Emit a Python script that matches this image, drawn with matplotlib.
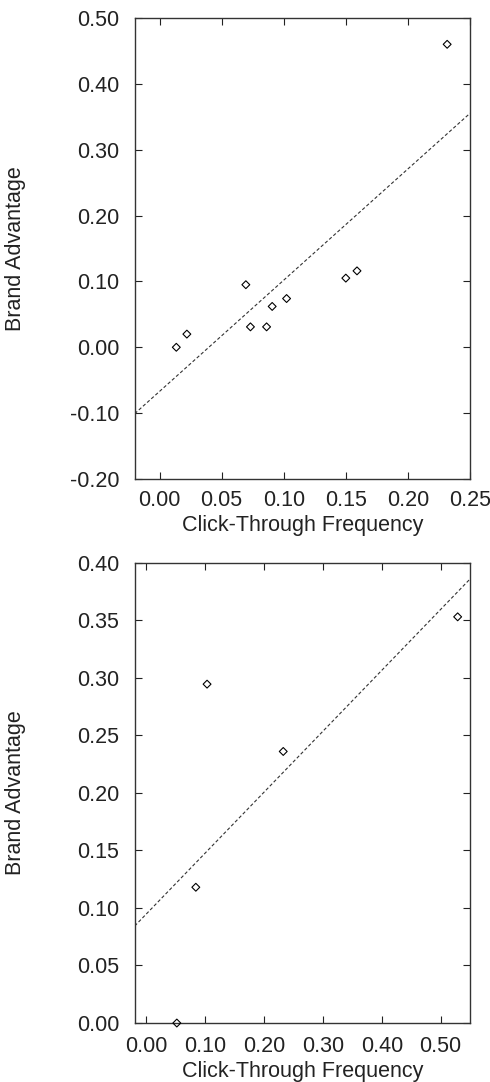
# two stacked scatter plots with fitted dashed lines
import numpy as np
import matplotlib
matplotlib.use('Agg')
import matplotlib.pyplot as plt

plt.rcParams['font.family'] = ['Liberation Sans', 'DejaVu Sans']

# top panel data
x_top = [0.0135, 0.022, 0.0695, 0.0732, 0.0862, 0.0907, 0.1023, 0.150, 0.159, 0.2316]
y_top = [0.000, 0.020, 0.095, 0.031, 0.031, 0.062, 0.074, 0.105, 0.116, 0.460]
fit_top = (1.689, -0.067)          # slope, intercept
xticks_top = [0.00, 0.05, 0.10, 0.15, 0.20, 0.25]
yticks_top = [-0.20, -0.10, 0.00, 0.10, 0.20, 0.30, 0.40, 0.50]

# bottom panel data
x_bot = [0.0516, 0.0839, 0.103, 0.2325, 0.529]
y_bot = [0.000, 0.118, 0.2945, 0.236, 0.353]
fit_bot = (0.529, 0.0949)
xticks_bot = [0.00, 0.10, 0.20, 0.30, 0.40, 0.50]
yticks_bot = [0.00, 0.05, 0.10, 0.15, 0.20, 0.25, 0.30, 0.35, 0.40]

fig = plt.figure(figsize=(4.9, 10.82), dpi=100)
ax1 = fig.add_axes([0.2749, 0.5573, 0.6843, 0.4261])
ax2 = fig.add_axes([0.2749, 0.0545, 0.6843, 0.4254])

panels = [
    (ax1, x_top, y_top, fit_top, xticks_top, yticks_top, (-0.02, 0.25), (-0.20, 0.50), 8, 2.5),
    (ax2, x_bot, y_bot, fit_bot, xticks_bot, yticks_bot, (-0.02, 0.55), (0.00, 0.40), 9, 3.5),
]

fs = 15.5
for ax, xs, ys, fit, xt, yt, xl, yl, xpad, lpad in panels:
    lx = np.array(xl)
    ax.plot(lx, fit[0] * lx + fit[1], linestyle=(0, (3, 2)), color='#333333', lw=0.8)
    ax.scatter(xs, ys, marker='D', s=16, facecolors='none', edgecolors='black',
               linewidths=0.8, clip_on=False, zorder=3)
    ax.set_xlim(xl)
    ax.set_ylim(yl)
    ax.set_xticks(xt)
    ax.set_yticks(yt)
    ax.set_xticklabels(['%.2f' % v for v in xt])
    ax.set_yticklabels(['%.2f' % v for v in yt])
    ax.tick_params(direction='in', top=True, right=True, length=4.8, width=0.8,
                   labelsize=fs, colors='#222222')
    ax.tick_params(axis='x', pad=xpad)
    ax.tick_params(axis='y', pad=11)
    for sp in ax.spines.values():
        sp.set_linewidth(1.0)
        sp.set_color('#333333')
    ax.set_xlabel('Click-Through Frequency', fontsize=fs, color='#222222', labelpad=lpad)
    ax.set_ylabel('Brand Advantage', fontsize=fs, color='#222222')
    ax.yaxis.set_label_coords(-0.324, 0.5)

fig.savefig('out.png', dpi=100)
